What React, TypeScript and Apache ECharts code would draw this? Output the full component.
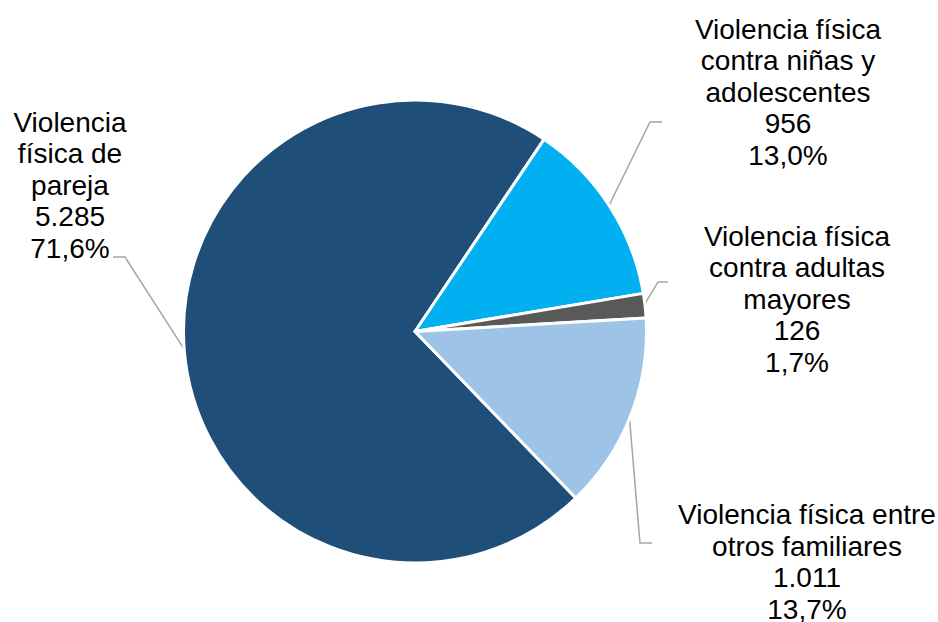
import React, { useEffect, useRef } from 'react';
import * as echarts from 'echarts';

// ---- data ----
const categories: string[] = [
  'Violencia\nfísica de\npareja',
  'Violencia física\ncontra niñas y\nadolescentes',
  'Violencia física\ncontra adultas\nmayores',
  'Violencia física entre\notros familiares',
];
const values: number[] = [5285, 956, 126, 1011];

// ---- style / layout ----
const colors = ['#1F4E79', '#00B0F0', '#595959', '#9DC3E6'];
const CX = 415;
const CY = 331.5;
const R = 231.5;
const START_ANGLE = -46; // degrees, ECharts convention (ccw from 3 o'clock)
const labelCenters: number[][] = [
  [70, 185],
  [788, 92],
  [797, 299],
  [807, 562],
];
const leaderTails: number[][][] = [
  [[125, 257], [113, 257]],
  [[650, 122], [662, 122]],
  [[658, 282], [668, 282]],
  [[640, 543], [652, 543]],
];

const fmtNum = (v: number) => String(v).replace(/\B(?=(\d{3})+(?!\d))/g, '.');
const fmtPct = (p: number) => p.toFixed(1).replace('.', ',');

function anchorFor(i: number): number[] {
  const total = values.reduce((a, b) => a + b, 0);
  let before = 0;
  for (let k = 0; k < i; k++) before += values[k];
  const mid = before + values[i] / 2;
  // clockwise from start angle
  const angDeg = START_ANGLE - (mid / total) * 360;
  const a = (angDeg * Math.PI) / 180;
  const r = R - 1.5;
  return [CX + r * Math.cos(a), CY - r * Math.sin(a)];
}

export default function App() {
  const ref = useRef<HTMLDivElement>(null);
  useEffect(() => {
    if (!ref.current) return;
    const chart = echarts.init(ref.current, undefined, { renderer: 'svg' });
    chart.setOption({
      animation: false,
      backgroundColor: '#ffffff',
      series: [
        {
          type: 'pie',
          center: [CX, CY],
          radius: R,
          startAngle: START_ANGLE,
          clockwise: true,
          avoidLabelOverlap: false,
          emphasis: { disabled: true },
          itemStyle: { borderColor: '#ffffff', borderWidth: 3 },
          label: {
            show: true,
            position: 'outside',
            color: '#000000',
            fontFamily: '"Liberation Sans", Arial, sans-serif',
            fontSize: 28,
            lineHeight: 31.5,
            overflow: 'none',
            formatter: (p: any) => `${p.name}\n${fmtNum(p.value)}\n${fmtPct(p.percent)}%`,
          },
          labelLine: {
            show: true,
            length: 20,
            length2: 10,
            lineStyle: { color: '#A6A6A6', width: 1.5 },
          },
          labelLayout: (params: any) => {
            const i = params.dataIndex;
            const [x, y] = labelCenters[i];
            const anchor = anchorFor(i);
            return {
              x,
              y,
              align: 'center',
              verticalAlign: 'middle',
              labelLinePoints: [anchor, leaderTails[i][0], leaderTails[i][1]],
            };
          },
          data: categories.map((name, i) => ({
            name,
            value: values[i],
            itemStyle: { color: colors[i] },
          })),
        },
      ],
    });
    return () => chart.dispose();
  }, []);
  return (
    <div
      ref={ref}
      style={{ position: 'fixed', left: 0, top: 0, width: 938, height: 622 }}
    />
  );
}
